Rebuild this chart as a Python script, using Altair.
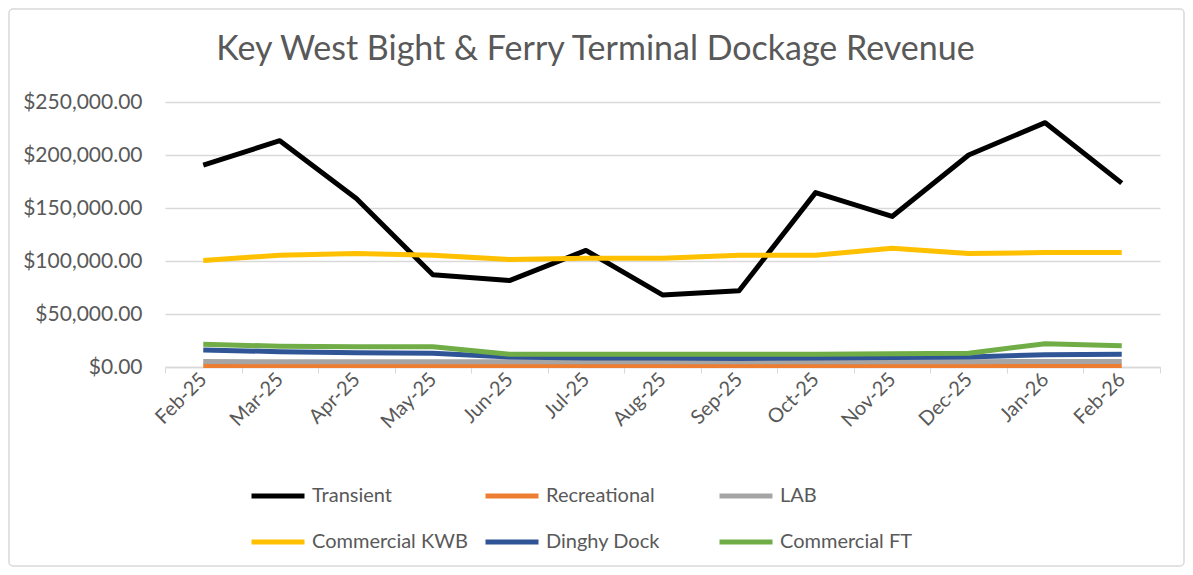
import altair as alt
import pandas as pd

months = ["Feb-25", "Mar-25", "Apr-25", "May-25", "Jun-25", "Jul-25", "Aug-25",
          "Sep-25", "Oct-25", "Nov-25", "Dec-25", "Jan-26", "Feb-26"]

series_names = ["Transient", "Recreational", "LAB", "Commercial KWB", "Dinghy Dock", "Commercial  FT"]
series_colors = ["#000000", "#ED7D31", "#A5A5A5", "#FFC000", "#2F5597", "#70AD47"]

transient = [190500, 213500, 159000, 87000, 81500, 110000, 68000, 72000, 164500, 142000, 200000, 230500, 173500]
recreational = [1500, 1500, 1500, 1500, 1500, 1500, 1500, 1500, 1500, 1500, 1500, 1500, 1500]
lab = [5200, 5000, 5000, 5000, 5000, 5000, 5000, 5000, 5000, 5000, 5000, 5200, 5200]
commercial_kwb = [100500, 105500, 107000, 105500, 101500, 102500, 102500, 105500, 105500, 112000, 107000, 108000, 108000]
dinghy_dock = [16000, 14500, 13500, 13000, 9500, 8500, 8500, 8000, 8500, 9000, 9500, 11500, 12000]
commercial_ft = [21500, 19500, 19000, 19000, 12000, 12000, 12000, 12000, 12000, 12500, 13000, 22000, 20000]

all_series = [transient, recreational, lab, commercial_kwb, dinghy_dock, commercial_ft]

rows = []
for name, vals in zip(series_names, all_series):
    for m, v in zip(months, vals):
        rows.append({"Month": m, "Series": name, "Value": v})
df = pd.DataFrame(rows)

FONT = "Lato"
GREY = "#595959"
W, H = 995, 265

lines = alt.Chart(df).mark_line(strokeWidth=5, strokeJoin="round").encode(
    x=alt.X("Month:N", sort=months, bandPosition=0.5,
            scale=alt.Scale(type="band", paddingInner=0, paddingOuter=0),
            axis=alt.Axis(title=None, labelAngle=-45, labelAlign="right", labelBaseline="middle",
                          labelPadding=3, tickBand="extent", ticks=True, tickSize=6,
                          tickColor="#d9d9d9", domainColor="#d9d9d9", domainWidth=1.5,
                          labelFontSize=20, labelColor=GREY, labelFont=FONT, grid=False)),
    y=alt.Y("Value:Q", scale=alt.Scale(domain=[0, 250000], nice=False),
            axis=alt.Axis(title=None, format="$,.2f", values=[0, 50000, 100000, 150000, 200000, 250000],
                          domain=False, ticks=False, labelPadding=23, labelFontSize=21,
                          labelColor=GREY, labelFont=FONT, gridColor="#d9d9d9", gridWidth=1.5)),
    color=alt.Color("Series:N", sort=series_names,
                    scale=alt.Scale(domain=series_names, range=series_colors),
                    legend=alt.Legend(title=None, orient="none", legendX=84, legendY=365,
                                      direction="horizontal", columns=3, gridAlign="all",
                                      symbolType="stroke", symbolSize=2809, symbolStrokeWidth=5,
                                      labelFontSize=20, labelColor=GREY, labelFont=FONT,
                                      labelOffset=5, columnPadding=7, rowPadding=7)),
)

frame = alt.Chart(pd.DataFrame({"f": [0]})).mark_rect(
    fill="transparent", stroke="#d9d9d9", strokeWidth=1.5, cornerRadius=4, clip=False
).encode(
    x=alt.value(-156), x2=alt.value(W + 24), y=alt.value(-93), y2=alt.value(H + 199)
)

chart = alt.layer(frame, lines).properties(
    width=W, height=H,
    padding={"left": 157, "top": 94, "right": 25, "bottom": 200},
    autosize=alt.AutoSizeParams(type="none"),
    title=alt.TitleParams("Key West Bight & Ferry Terminal Dockage Revenue", fontSize=34,
                          font=FONT, color=GREY, fontWeight="normal", anchor="middle",
                          offset=-59, dx=-67),
).configure_view(stroke=None)

chart.save("out.html", embed_options={"renderer": "svg", "actions": False})
